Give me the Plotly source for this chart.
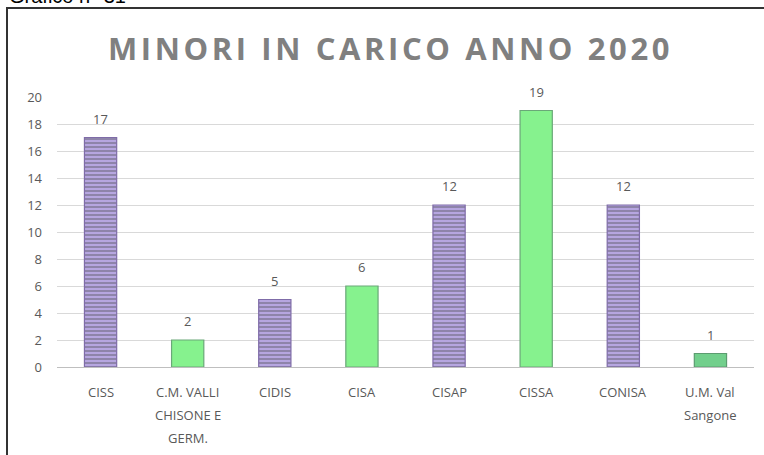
import plotly.graph_objects as go

categories = ["CISS", "C.M. VALLI CHISONE E GERM.", "CIDIS", "CISA", "CISAP", "CISSA", "CONISA", "U.M. Val Sangone"]
tick_lines = [["CISS"], ["C.M. VALLI", "CHISONE E", "GERM."], ["CIDIS"], ["CISA"], ["CISAP"], ["CISSA"], ["CONISA"], ["U.M. Val", "Sangone"]]
values = [17, 2, 5, 6, 12, 19, 12, 1]
y_ticks = [0, 2, 4, 6, 8, 10, 12, 14, 16, 18, 20]
title_text = "MINORI IN CARICO ANNO 2020"
caption_text = "Grafico n° 31"

PURPLE, PURPLE_LINE, PURPLE_EDGE = "#b6a6e0", "#8470bc", "#7f6ca8"
GREEN, GREEN_EDGE = "#86f28e", "#6aa878"
fill = [PURPLE, GREEN, PURPLE, GREEN, PURPLE, GREEN, PURPLE, "#72cf8c"]
edge = [PURPLE_EDGE, GREEN_EDGE, PURPLE_EDGE, GREEN_EDGE, PURPLE_EDGE, GREEN_EDGE, PURPLE_EDGE, "#5c9c70"]
shape = ["-", "", "-", "", "-", "", "-", ""]

W, H = 764, 455
L, R, T, B = 57, 10, 97, 88
pw, ph = W - L - R, H - T - B

def px_x(p):
    return (p - L) / pw

def px_y(p):
    return 1 + (T - p) / ph

fig = go.Figure()
fig.add_trace(go.Bar(
    x=categories, y=values,
    marker=dict(color=fill, line=dict(color=edge, width=1.2),
                pattern=dict(shape=shape, fgcolor=PURPLE_LINE, size=4, solidity=0.35)),
    width=0.37, hoverinfo="skip",
))

annotations = []
for c, v in zip(categories, values):
    annotations.append(dict(x=c, y=v, xref="x", yref="y", text=str(v), showarrow=False,
                            yshift=19, font=dict(family="Open Sans", size=13, color="#595959")))
for c, lines in zip(categories, tick_lines):
    for i, line in enumerate(lines):
        annotations.append(dict(x=c, y=0, xref="x", yref="paper", yanchor="middle", text=line,
                                showarrow=False, yshift=-(25 + 23 * i),
                                font=dict(family="Open Sans", size=13, color="#595959")))
annotations.append(dict(x=px_x(7), y=px_y(9), xref="paper", yref="paper", xanchor="left", yanchor="bottom",
                        text=caption_text, showarrow=False,
                        font=dict(family="Liberation Sans", size=20, color="#000000")))
annotations.append(dict(x=px_x(390), y=px_y(48), xref="paper", yref="paper", xanchor="center", yanchor="middle",
                        text='<span style="letter-spacing:3.6px">' + title_text + '</span>', showarrow=False,
                        font=dict(family="Open Sans", size=31, color="#808080", weight="bold")))

fig.update_layout(
    width=W, height=H, margin=dict(l=L, r=R, t=T, b=B),
    paper_bgcolor="white", plot_bgcolor="white", showlegend=False,
    annotations=annotations,
    shapes=[dict(type="rect", xref="paper", yref="paper",
                 x0=px_x(7), x1=px_x(W + 20), y0=px_y(H + 20), y1=px_y(8),
                 line=dict(color="#333333", width=2), fillcolor="rgba(0,0,0,0)", layer="above")],
    xaxis=dict(tickmode="array", tickvals=categories, showticklabels=False,
               showline=True, linecolor="#bfbfbf", linewidth=1, ticks="", showgrid=False),
    yaxis=dict(range=[0, 20], tickvals=y_ticks, gridcolor="#d9d9d9", gridwidth=1,
               tickfont=dict(family="Open Sans", size=13, color="#595959"),
               zeroline=False, ticks="", ticklabelstandoff=14),
)

fig.write_html("out.html", config={"displayModeBar": False},
               post_script="document.body.style.margin='0';document.body.style.overflow='hidden';")
